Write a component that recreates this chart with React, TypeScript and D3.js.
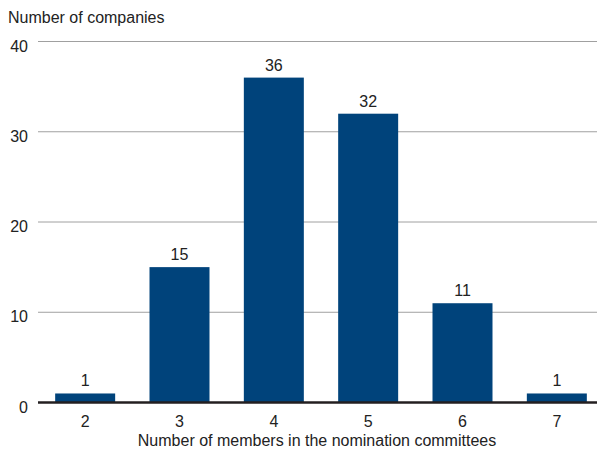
import React from "react";
import * as d3 from "d3";

const categories = ["2", "3", "4", "5", "6", "7"];
const values = [1, 15, 36, 32, 11, 1];
const yTicks = [0, 10, 20, 30, 40];
const yLabel = "Number of companies";
const xLabel = "Number of members in the nomination committees";

export default function App() {
  const W = 597, H = 450;
  const x = d3.scaleBand<string>().domain(categories).range([38, 604]).paddingInner(0.364).paddingOuter(0.182);
  const y = d3.scaleLinear().domain([0, 40]).range([402.5, 41.5]);
  const font = "'Liberation Sans', Arial, sans-serif";
  const txt = "#222";
  return (
    <svg width={W} height={H} style={{ position: "absolute", left: 0, top: 0 }} fontFamily={font} fontSize={16}>
      <rect width={W} height={H} fill="#fff" />
      <text x={8} y={23} fill={txt}>{yLabel}</text>
      {yTicks.map((t) => (
        <g key={t}>
          {t > 0 && <line x1={38} x2={W} y1={y(t)} y2={y(t)} stroke="#a0a0a0" strokeWidth={1} />}
          <text x={28} y={y(t) + 10} textAnchor="end" fill={txt}>{t}</text>
        </g>
      ))}
      {categories.map((c, i) => (
        <g key={c}>
          <rect x={x(c)} y={y(values[i])} width={x.bandwidth()} height={y(0) - y(values[i])} fill="#00437b" />
          <text x={(x(c) as number) + x.bandwidth() / 2} y={y(values[i]) - 7} textAnchor="middle" fill={txt}>{values[i]}</text>
          <text x={(x(c) as number) + x.bandwidth() / 2} y={427} textAnchor="middle" fill={txt}>{c}</text>
        </g>
      ))}
      <line x1={38} x2={W} y1={y(0)} y2={y(0)} stroke="#231f20" strokeWidth={2.5} />
      <text x={317} y={446} textAnchor="middle" fill={txt}>{xLabel}</text>
    </svg>
  );
}
